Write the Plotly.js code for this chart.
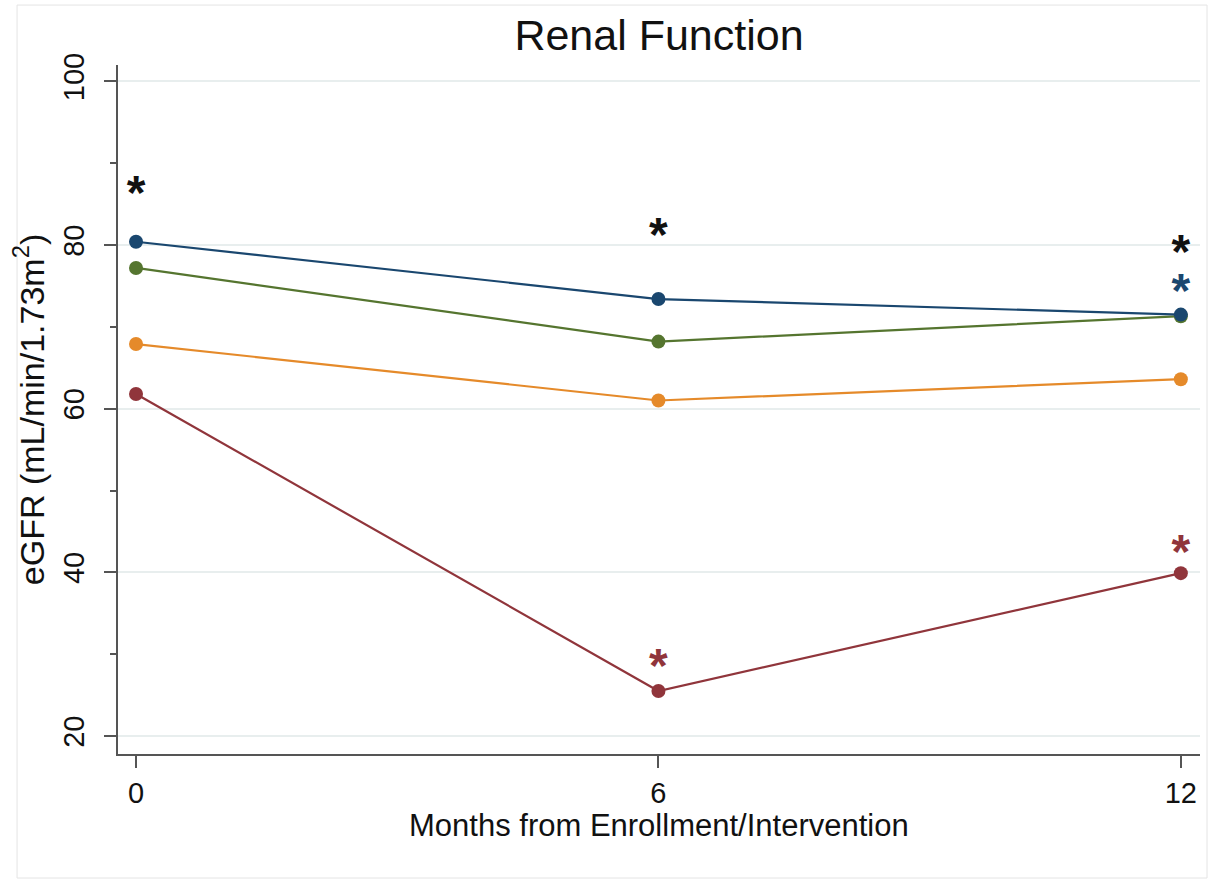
<!DOCTYPE html>
<html>
<head>
<meta charset="utf-8">
<script src="https://cdn.plot.ly/plotly-3.0.1.min.js"></script>
<style>html,body{margin:0;padding:0;background:#fff;}#chart{width:1219px;height:882px;}</style>
</head>
<body>
<div id="chart"></div>
<script>
// Months from enrollment/intervention
const months = [0, 6, 12];
// eGFR means per group
const blueSeries   = [80.4, 73.4, 71.5];
const greenSeries  = [77.2, 68.2, 71.3];
const orangeSeries = [67.9, 61.0, 63.6];
const redSeries    = [61.8, 25.5, 39.9];
// significance markers (asterisks)
const starBlackX = [0, 6, 12];
const starBlackY = [87.2, 82.0, 80.0];
const starBlueX = [12];
const starBlueY = [75.2];
const starRedX = [6, 12];
const starRedY = [29.4, 43.3];
const xTickVals = [0, 6, 12];
const yTickVals = [20, 40, 60, 80, 100];
const xTitle = 'Months from Enrollment/Intervention';

const colors = {blue:'#1a476f', green:'#55752f', orange:'#e58a2a', red:'#90353b'};
const FONT = 'Liberation Sans, Arial, sans-serif';

function line(y, c) {
  return {x: months, y: y, mode: 'lines+markers', type: 'scatter',
    line: {color: c, width: 2.2}, marker: {color: c, size: 14}, showlegend: false, hoverinfo: 'skip'};
}
function stars(x, y, c) {
  return {x: x, y: y.map(v => v - 1.3), mode: 'text', type: 'scatter', text: x.map(() => '*'),
    textposition: 'middle center', textfont: {family: FONT, size: 48, color: c, weight: 'bold'}, showlegend: false, hoverinfo: 'skip'};
}

const data = [
  line(orangeSeries, colors.orange),
  line(redSeries, colors.red),
  line(greenSeries, colors.green),
  line(blueSeries, colors.blue),
  stars(starBlackX, starBlackY, '#111111'),
  stars(starBlueX, starBlueY, colors.blue),
  stars(starRedX, starRedY, colors.red)
];

const layout = {
  width: 1219, height: 882,
  margin: {l: 118, r: 19, t: 65, b: 128},
  paper_bgcolor: '#ffffff', plot_bgcolor: '#ffffff',
  font: {family: FONT, color: '#111111'},
  title: {text: 'Renal Function', font: {family: FONT, size: 43, color: '#111111'},
    x: 0.5, xref: 'paper', y: 1 - 35/882, yref: 'container', yanchor: 'middle'},
  xaxis: {
    range: [-0.207, 12.22], tickvals: xTickVals, ticktext: xTickVals.map(String),
    showgrid: false, zeroline: false, showline: true, linecolor: '#555555', linewidth: 2,
    ticks: 'outside', ticklen: 12, tickwidth: 2, tickcolor: '#555555',
    tickfont: {family: FONT, size: 29, color: '#111111'}
  },
  yaxis: {
    range: [17.8, 102], tickvals: yTickVals, ticktext: yTickVals.map(String), tickangle: -90,
    showgrid: true, gridcolor: '#e8eeee', gridwidth: 2, zeroline: false,
    showline: true, linecolor: '#555555', linewidth: 2,
    ticks: 'outside', ticklen: 12, tickwidth: 2, tickcolor: '#555555',
    ticklabelstandoff: 8,
    minor: {dtick: 10, tick0: 0, ticks: 'outside', ticklen: 6, tickwidth: 2, tickcolor: '#555555', showgrid: false},
    tickfont: {family: FONT, size: 29, color: '#111111'},
    title: {text: 'eGFR (mL/min/1.73m<sup>2</sup>)', font: {family: FONT, size: 34, color: '#111111'}, standoff: 4}
  },
  annotations: [
    {text: xTitle, xref: 'paper', yref: 'paper', x: 0.5, y: -0.1038, xanchor: 'center', yanchor: 'middle',
     showarrow: false, font: {family: FONT, size: 31, color: '#111111'}}
  ],
  shapes: [
    {type: 'rect', xref: 'paper', yref: 'paper', x0: -0.0933, x1: 1.0065, y0: -0.18, y1: 1.087,
     line: {color: '#e4e4e4', width: 1}, fillcolor: 'rgba(0,0,0,0)', layer: 'below'}
  ]
};

Plotly.newPlot('chart', data, layout, {displayModeBar: false, staticPlot: true});
</script>
</body>
</html>
